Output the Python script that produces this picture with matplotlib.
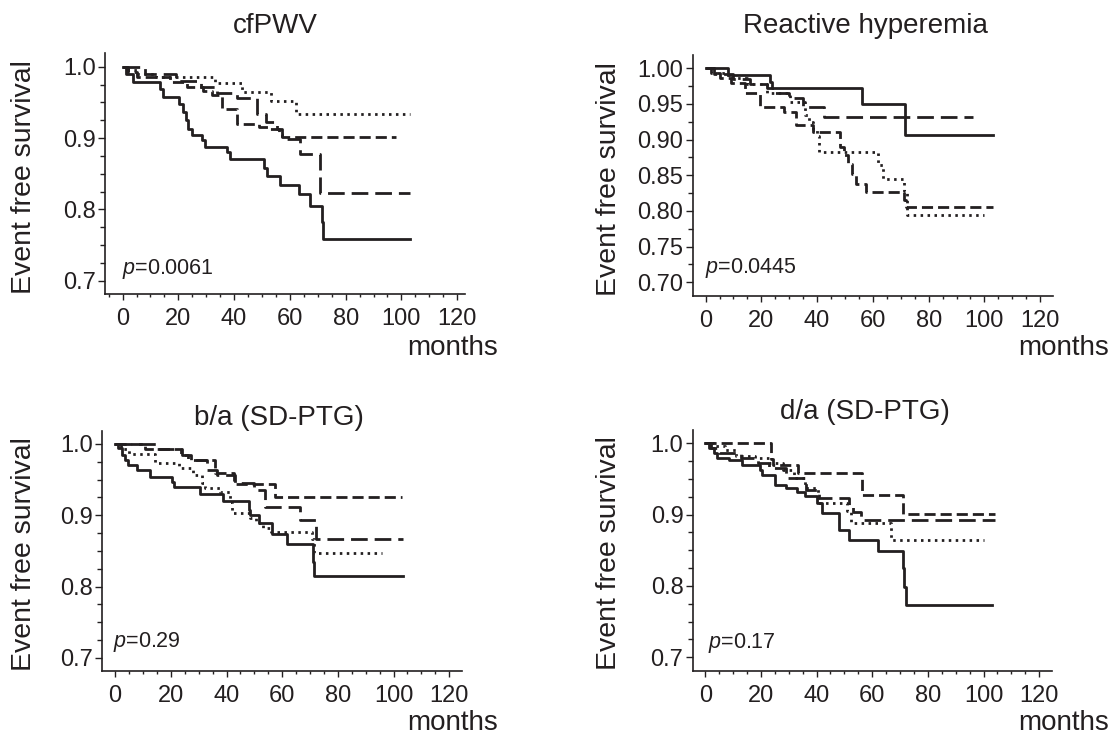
import matplotlib
matplotlib.use('Agg')
import matplotlib.pyplot as plt
from matplotlib.ticker import MultipleLocator, FormatStrFormatter

plt.rcParams['font.family'] = ['Liberation Sans', 'DejaVu Sans']
plt.rcParams['mathtext.fontset'] = 'custom'
plt.rcParams['mathtext.rm'] = 'Liberation Sans'
plt.rcParams['mathtext.it'] = 'Liberation Sans:italic'
plt.rcParams['lines.scale_dashes'] = False

TITLES = ["cfPWV", "Reactive hyperemia", "b/a (SD-PTG)", "d/a (SD-PTG)"]
P_VALUES = ["0.0061", "0.0445", "0.29", "0.17"]

# Kaplan-Meier steps (months, event free survival)
# cfPWV
CF_SOLID_T = [0, 1.4, 3.8, 13.5, 14.6, 20.2, 21.5, 22.8, 23.6, 25.0, 28.6, 29.5, 37.3, 38.5, 50.7, 51.9, 56.5, 63.3, 67.2, 71.4, 72.0, 103]
CF_SOLID_S = [1.0, 0.990, 0.979, 0.969, 0.958, 0.948, 0.936, 0.925, 0.912, 0.904, 0.897, 0.887, 0.880, 0.871, 0.858, 0.847, 0.834, 0.822, 0.804, 0.782, 0.759, 0.759]
CF_LONG_T = [0, 8, 19, 28, 34, 41, 48.3, 51.5, 55.5, 57.0, 63.5, 70.8, 103]
CF_LONG_S = [1.0, 0.99, 0.98, 0.971, 0.963, 0.956, 0.934, 0.922, 0.913, 0.899, 0.877, 0.823, 0.823]
CF_MED_T = [0, 2, 5, 17, 23, 29, 32, 35.5, 40.9, 49, 52, 56, 57.3, 98]
CF_MED_S = [1.0, 0.993, 0.986, 0.979, 0.972, 0.966, 0.960, 0.940, 0.920, 0.915, 0.912, 0.906, 0.902, 0.902]
CF_DOT_T = [0, 2, 5, 12, 33, 42.7, 53.3, 62.3, 103]
CF_DOT_S = [1.0, 0.996, 0.990, 0.986, 0.977, 0.965, 0.952, 0.934, 0.934]

# Reactive hyperemia
RH_SOLID_T = [0, 8.2, 23.2, 23.8, 56.1, 71.4, 103]
RH_SOLID_S = [1.0, 0.991, 0.981, 0.972, 0.950, 0.907, 0.907]
RH_LONG_T = [0, 3, 10, 16, 22, 25, 30, 35, 42.3, 96]
RH_LONG_S = [1.0, 0.992, 0.985, 0.978, 0.972, 0.965, 0.958, 0.945, 0.932, 0.932]
RH_MED_T = [0, 2, 5, 9, 14, 19.5, 28, 32.5, 38.7, 48.3, 49.5, 51, 52.5, 54, 57.5, 71.3, 72, 103]
RH_MED_S = [1.0, 0.993, 0.986, 0.979, 0.965, 0.946, 0.938, 0.920, 0.910, 0.889, 0.878, 0.866, 0.852, 0.838, 0.827, 0.815, 0.805, 0.805]
RH_DOT_T = [0, 3, 8, 15, 22, 30.3, 35.7, 37, 38.5, 40, 40.6, 62, 63.5, 71.2, 72.3, 100]
RH_DOT_S = [1.0, 0.993, 0.986, 0.978, 0.965, 0.953, 0.935, 0.925, 0.915, 0.905, 0.883, 0.865, 0.845, 0.828, 0.794, 0.794]

# b/a (SD-PTG)
BA_SOLID_T = [0, 1.2, 2.4, 3.6, 4.5, 7.8, 12.6, 20.4, 21.0, 30.5, 38.9, 47.9, 48.5, 51.5, 56.3, 61.7, 71.0, 71.5, 103.5]
BA_SOLID_S = [1.0, 0.994, 0.985, 0.978, 0.971, 0.964, 0.954, 0.947, 0.939, 0.930, 0.920, 0.908, 0.900, 0.889, 0.873, 0.860, 0.835, 0.815, 0.815]
BA_LONG_T = [0, 15, 24, 26, 33, 36.5, 43, 49.7, 53.9, 66.5, 72.3, 103.5]
BA_LONG_S = [1.0, 0.993, 0.985, 0.977, 0.963, 0.956, 0.945, 0.935, 0.912, 0.893, 0.867, 0.867]
BA_MED_T = [0, 10.8, 23.6, 27.1, 35.7, 42.7, 57.5, 103]
BA_MED_S = [1.0, 0.993, 0.985, 0.977, 0.959, 0.944, 0.925, 0.925]
BA_DOT_T = [0, 2, 5, 14.4, 22.8, 28.1, 31.1, 32.3, 37.7, 41.3, 41.9, 48.6, 50.5, 53, 56, 70.7, 71.5, 95.8]
BA_DOT_S = [1.0, 0.993, 0.986, 0.973, 0.966, 0.957, 0.945, 0.938, 0.933, 0.919, 0.903, 0.896, 0.889, 0.882, 0.877, 0.866, 0.847, 0.847]

# d/a (SD-PTG)
DA_SOLID_T = [0, 1.5, 3.0, 4.2, 8.4, 13.2, 19.8, 20.4, 25.1, 29, 32.9, 36, 40.1, 41.9, 47.9, 51.5, 61.9, 71.0, 71.5, 72.2, 103]
DA_SOLID_S = [1.0, 0.993, 0.986, 0.979, 0.977, 0.970, 0.963, 0.956, 0.942, 0.937, 0.932, 0.926, 0.916, 0.902, 0.879, 0.865, 0.849, 0.825, 0.799, 0.774, 0.774]
DA_LONG_T = [0, 2, 5, 13, 19, 23, 29, 36.3, 41, 51.7, 53, 55.8, 104]
DA_LONG_S = [1.0, 0.993, 0.986, 0.979, 0.972, 0.965, 0.951, 0.935, 0.923, 0.912, 0.903, 0.893, 0.893]
DA_MED_T = [0, 23.5, 24.5, 33.3, 56.5, 71.0, 104]
DA_MED_S = [1.0, 0.978, 0.970, 0.958, 0.928, 0.901, 0.901]
DA_DOT_T = [0, 3, 7, 11, 18, 23, 28, 32, 36, 40.5, 51, 52.5, 66.8, 100]
DA_DOT_S = [1.0, 0.996, 0.990, 0.982, 0.979, 0.972, 0.963, 0.952, 0.937, 0.916, 0.905, 0.888, 0.865, 0.865]

PANELS = [
    [("solid", CF_SOLID_T, CF_SOLID_S), ("long", CF_LONG_T, CF_LONG_S),
     ("medium", CF_MED_T, CF_MED_S), ("dotted", CF_DOT_T, CF_DOT_S)],
    [("solid", RH_SOLID_T, RH_SOLID_S), ("long", RH_LONG_T, RH_LONG_S),
     ("medium", RH_MED_T, RH_MED_S), ("dotted", RH_DOT_T, RH_DOT_S)],
    [("solid", BA_SOLID_T, BA_SOLID_S), ("long", BA_LONG_T, BA_LONG_S),
     ("medium", BA_MED_T, BA_MED_S), ("dotted", BA_DOT_T, BA_DOT_S)],
    [("solid", DA_SOLID_T, DA_SOLID_S), ("long", DA_LONG_T, DA_LONG_S),
     ("medium", DA_MED_T, DA_MED_S), ("dotted", DA_DOT_T, DA_DOT_S)],
]

INK = '#231f20'
LINESTYLES = {
    "solid": '-',
    "long": (0, (12, 5)),
    "medium": (0, (8, 3.6)),
    "dotted": (0, (1.8, 3.2)),
}

BOXES = [
    [0.0946, 0.5997, 0.3243, 0.3276],
    [0.6241, 0.5976, 0.3243, 0.3276],
    [0.0922, 0.0865, 0.3238, 0.3276],
    [0.6241, 0.0873, 0.3234, 0.3276],
]
XLIMS = [(-6.3, 122.8), (-4.6, 124.5), (-4.6, 124.5), (-4.5, 124.5)]
TITLE_POS = [(0.472, 1.085), (0.479, 1.09), (0.4905, 1.024), (0.48, 1.044)]
YLABEL_POS = [(-0.224, 0.485), (-0.2325, 0.485), (-0.217, 0.4875), (-0.233, 0.4875)]
XLABEL_POS = [(1.0917, -0.2525), (1.156, -0.246), (1.101, -0.243), (1.16, -0.246)]
P_POS = [(0.046, 0.084), (0.034, 0.096), (0.029, 0.1026), (0.0435, 0.096)]


def drawPanel(fig, i):
    ax = fig.add_axes(BOXES[i])
    for style, t, s in PANELS[i]:
        ax.step(t, s, where='post', color=INK, lw=2.0,
                linestyle=LINESTYLES[style], dash_capstyle='butt')

    ax.set_xlim(*XLIMS[i])
    ax.set_ylim(0.681, 1.0186)
    ax.xaxis.set_major_locator(MultipleLocator(20))
    ax.xaxis.set_minor_locator(MultipleLocator(5))
    if i == 1:
        ax.yaxis.set_major_locator(MultipleLocator(0.05))
        ax.yaxis.set_major_formatter(FormatStrFormatter('%.2f'))
    else:
        ax.yaxis.set_major_locator(MultipleLocator(0.1))
        ax.yaxis.set_major_formatter(FormatStrFormatter('%.1f'))
    ax.yaxis.set_minor_locator(MultipleLocator(0.025))
    ax.set_xticks([0, 20, 40, 60, 80, 100, 120])

    for side in ['top', 'right']:
        ax.spines[side].set_visible(False)
    for side in ['left', 'bottom']:
        ax.spines[side].set_linewidth(1.2)
        ax.spines[side].set_color(INK)

    ax.tick_params(axis='both', which='both', direction='out', color=INK,
                   labelcolor=INK, width=1.0)
    ax.tick_params(axis='x', which='major', length=4, pad=6, labelsize=17)
    ax.tick_params(axis='x', which='minor', length=2.4)
    ax.tick_params(axis='y', which='major', length=5.2, pad=1.5, labelsize=17)
    ax.tick_params(axis='y', which='minor', length=3.5)

    ax.text(TITLE_POS[i][0], TITLE_POS[i][1], TITLES[i], transform=ax.transAxes,
            ha='center', va='baseline', fontsize=20, color=INK)

    ax.set_ylabel('Event free survival', fontsize=20.5, color=INK)
    ax.yaxis.label.set_va('center')
    ax.yaxis.set_label_coords(*YLABEL_POS[i])

    ax.set_xlabel('months', fontsize=20, color=INK)
    ax.xaxis.label.set_ha('right')
    ax.xaxis.label.set_va('baseline')
    ax.xaxis.set_label_coords(*XLABEL_POS[i])

    ax.text(P_POS[i][0], P_POS[i][1], r'$\mathit{p}$=' + P_VALUES[i],
            transform=ax.transAxes, ha='left', va='baseline', fontsize=15.5, color=INK)
    return ax


if __name__ == '__main__':
    fig = plt.figure(figsize=(11.1, 7.35), dpi=100)
    for i in range(4):
        drawPanel(fig, i)
    fig.savefig('out.png', dpi=100, facecolor='white')
